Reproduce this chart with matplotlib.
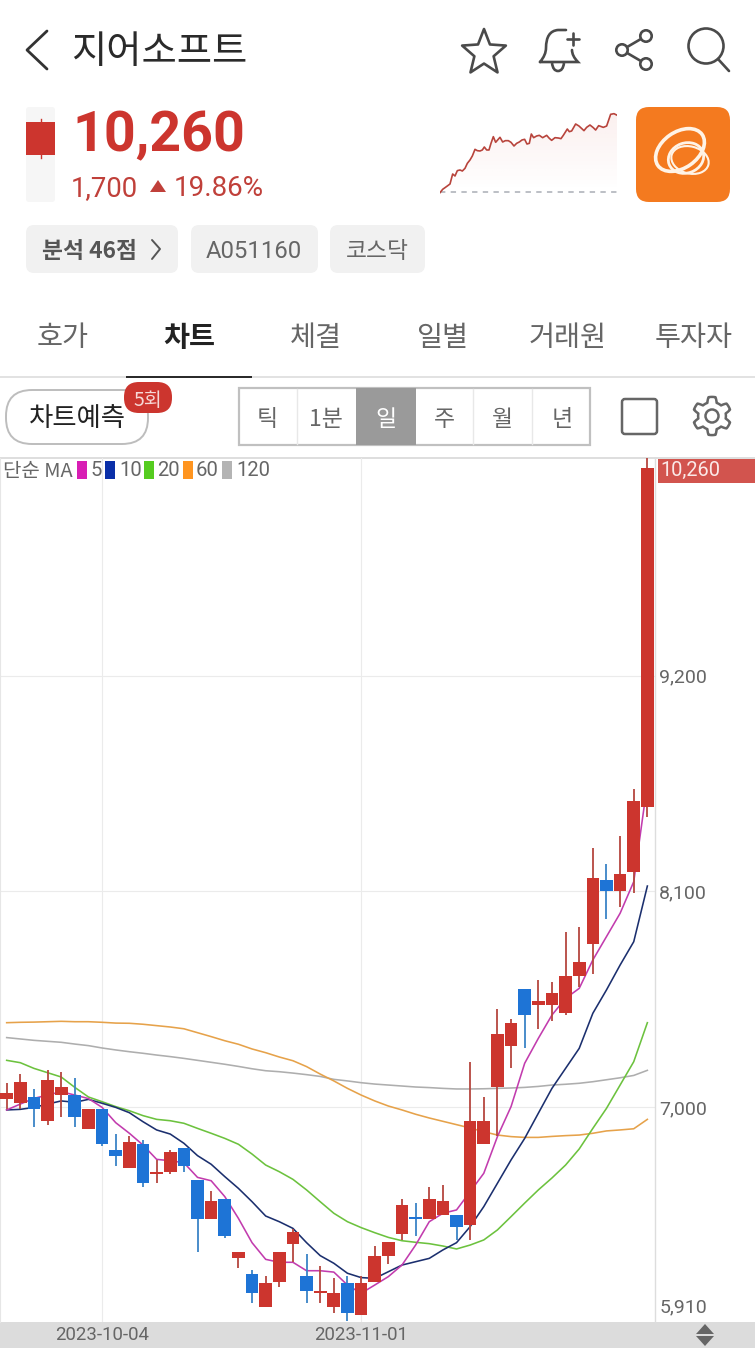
import numpy as np
import matplotlib
matplotlib.use("Agg")
import matplotlib.pyplot as plt
from matplotlib.patches import FancyBboxPatch, Rectangle, Circle, Ellipse, Polygon, PathPatch
from matplotlib.path import Path
from matplotlib.transforms import ScaledTranslation

W, H = 755, 1348
plt.rcParams['font.family'] = ['Noto Sans CJK KR', 'DejaVu Sans']
NUM_FONT = ['Roboto', 'Noto Sans CJK KR', 'DejaVu Sans']

# daily candles, 2023-09 .. 2023-11
opens = [7040, 7020, 7050, 6930, 7060, 7060, 6890, 6990, 6780, 6690, 6810, 6660, 6670, 6790, 6630, 6430,
         6530, 6230, 6150, 5980, 6110, 6300, 6140, 6050, 5980, 6100, 5940, 6110, 6240, 6350, 6440, 6430,
         6450, 6450, 6400, 6810, 7100, 7310, 7600, 7520, 7520, 7480, 7670, 7830, 8160, 8100, 8200, 8530]
closes = [7070, 7130, 6990, 7140, 7100, 6950, 6990, 6810, 6750, 6820, 6610, 6670, 6770, 6700, 6430, 6520,
          6340, 6260, 6050, 6100, 6260, 6360, 6060, 6060, 6050, 5950, 6100, 6240, 6310, 6500, 6430, 6530,
          6520, 6390, 6930, 6930, 7370, 7430, 7470, 7540, 7580, 7670, 7740, 8170, 8100, 8190, 8560, 10260]
highs = [7120, 7170, 7090, 7190, 7180, 7150, 6990, 6990, 6860, 6850, 6830, 6730, 6780, 6790, 6630, 6570,
         6530, 6260, 6170, 6140, 6260, 6380, 6250, 6190, 6130, 6140, 6140, 6290, 6310, 6530, 6510, 6590,
         6600, 6450, 7230, 7050, 7500, 7450, 7600, 7650, 7640, 7890, 7920, 8320, 8240, 8380, 8620, 10310]
lows = [6990, 6990, 6900, 6910, 6950, 6900, 6890, 6800, 6700, 6690, 6590, 6610, 6660, 6670, 6260, 6430,
        6330, 6180, 6000, 5980, 6080, 6210, 6000, 6000, 5950, 5910, 5940, 6110, 6200, 6320, 6340, 6430,
        6450, 6320, 6320, 6810, 6850, 7200, 7300, 7400, 7440, 7470, 7610, 7680, 7960, 8020, 8090, 8480]

ma5 = [6985, 7015, 7044, 7061, 7078, 7061, 7043, 6998, 6920, 6866, 6806, 6733, 6726, 6716, 6641, 6624,
       6543, 6432, 6308, 6223, 6208, 6208, 6165, 6165, 6158, 6092, 6050, 6092, 6135, 6194, 6296, 6415,
       6458, 6475, 6568, 6662, 6849, 7002, 7223, 7350, 7469, 7554, 7605, 7750, 7869, 7988, 8149, 8650]
ma10 = [6985, 6988, 6998, 7015, 7031, 7024, 7039, 7019, 6998, 6971, 6925, 6883, 6862, 6815, 6752, 6708,
        6645, 6585, 6517, 6444, 6415, 6381, 6308, 6242, 6203, 6152, 6130, 6126, 6160, 6194, 6211, 6228,
        6271, 6308, 6390, 6492, 6611, 6730, 6840, 6968, 7095, 7197, 7299, 7478, 7597, 7724, 7843, 8127]
ma20 = [7238, 7226, 7197, 7175, 7153, 7100, 7051, 7027, 7002, 6981, 6956, 6937, 6930, 6917, 6891, 6866,
        6840, 6810, 6760, 6704, 6670, 6631, 6577, 6517, 6458, 6415, 6385, 6359, 6335, 6318, 6310, 6303,
        6291, 6276, 6296, 6322, 6373, 6441, 6510, 6577, 6638, 6704, 6786, 6891, 6993, 7112, 7231, 7430]
ma60 = [7430, 7432, 7433, 7435, 7437, 7435, 7435, 7432, 7428, 7427, 7422, 7415, 7408, 7399, 7379, 7359,
        7338, 7320, 7296, 7277, 7255, 7236, 7206, 7168, 7133, 7095, 7061, 7031, 7005, 6985, 6963, 6944,
        6927, 6910, 6893, 6874, 6857, 6849, 6845, 6845, 6850, 6854, 6857, 6866, 6878, 6883, 6889, 6937]
ma120 = [7354, 7347, 7340, 7335, 7330, 7321, 7313, 7301, 7291, 7282, 7274, 7265, 7257, 7248, 7238, 7228,
         7218, 7207, 7195, 7185, 7180, 7173, 7165, 7156, 7141, 7133, 7124, 7117, 7112, 7107, 7102, 7099,
         7095, 7092, 7092, 7093, 7095, 7097, 7100, 7105, 7112, 7116, 7121, 7129, 7139, 7149, 7161, 7187]

ma_series = [ma120, ma60, ma20, ma10, ma5]
ma_colors = ['#aeaeae', '#e6a24a', '#6cc23e', '#1b2f6e', '#c23cae']

legend_labels = ['5', '10', '20', '60', '120']
legend_colors = ['#d81eb4', '#0a2fa8', '#55cc20', '#ff9520', '#b4b4b4']

price_ticks = [7000, 8100, 9200]
price_labels = ['7,000', '8,100', '9,200']
date_ticks = [7, 26]
date_labels = ['2023-10-04', '2023-11-01']

# small intraday line in the header
spark_t = [30, 38, 45, 52, 60, 68, 75, 82, 90, 97, 105, 112, 120, 127, 135, 142, 150, 157, 163, 170, 177, 183,
           190, 197, 203, 210, 218, 226, 235, 243, 252, 260, 268, 276, 284, 291, 298, 304, 311, 320, 328, 338,
           350, 358, 365, 375, 385, 393, 400, 412, 418, 425, 437, 447, 462, 470, 480, 490, 497, 506, 520, 530,
           542, 552, 562]
spark_p = [8545, 8618, 8654, 8691, 8734, 8952, 8908, 9025, 9039, 9017, 9075, 9184, 9257, 9344, 9489, 9460,
           9453, 9475, 9540, 9475, 9475, 9620, 9765, 9642, 9693, 9751, 9649, 9678, 9678, 9642, 9562, 9620,
           9649, 9693, 9707, 9605, 9620, 9823, 9743, 9780, 9794, 9743, 9794, 9729, 9685, 9743, 9736, 9722,
           9794, 9932, 9874, 9889, 10041, 9997, 9896, 9968, 10019, 9961, 9910, 10005, 9968, 9997, 10252,
           10266, 10230]
prev_close = 8560

tabs = ['호가', '차트', '체결', '일별', '거래원', '투자자']
periods = ['틱', '1분', '일', '주', '월', '년']

RED = '#cc352e'
BLUE = '#1e74d6'
GRAY_TXT = '#666666'
ICON = '#4a4a4a'


def px_axes(x0, y0, x1, y1, **kw):
    return fig.add_axes([x0 / W, 1 - y1 / H, (x1 - x0) / W, (y1 - y0) / H], **kw)


def rbox(x0, y0, x1, y1, r, **kw):
    ui.add_patch(FancyBboxPatch((x0 + r, y0 + r), x1 - x0 - 2 * r, y1 - y0 - 2 * r,
                                boxstyle="round,pad=%g,rounding_size=%g" % (r, r), **kw))


def stroke(points, color=ICON, lw=1.9):
    xs, ys = zip(*points)
    ui.plot(xs, ys, color=color, lw=lw, solid_capstyle='round', solid_joinstyle='round')


fig = plt.figure(figsize=(W / 100, H / 100), dpi=100, facecolor='white')

# ---- page chrome, in pixels
ui = fig.add_axes([0, 0, 1, 1], zorder=0)
ui.set_xlim(0, W)
ui.set_ylim(H, 0)
ui.axis('off')

# header row
stroke([(47, 31), (27, 50), (47, 69)], color='#333333', lw=2.0)
ui.text(71, 52, '지어소프트', fontsize=27.6, color='#2a2a2a', va='center', ha='left')

star_a = np.deg2rad(np.arange(0, 360, 36) - 90)
star_r = np.array([25, 11] * 5)
star = np.c_[484 + star_r * np.cos(star_a) * 0.92, 53 + star_r * np.sin(star_a) * 0.96]
ui.add_patch(Polygon(star, closed=True, fill=False, ec=ICON, lw=1.9, joinstyle='round'))

bell = Path([(540, 62), (546, 55), (546, 48), (546, 31), (558, 30), (563, 30), (566, 30),
             (572, 50), (572, 56), (578, 62), (540, 62)],
            [Path.MOVETO, Path.CURVE3, Path.CURVE3, Path.CURVE3, Path.CURVE3, Path.CURVE3, Path.CURVE3,
             Path.MOVETO, Path.CURVE3, Path.CURVE3, Path.LINETO])
ui.add_patch(PathPatch(bell, fill=False, ec=ICON, lw=1.9, capstyle='round'))
ui.add_patch(PathPatch(Path([(552, 63), (553, 71), (558, 71), (563, 71), (564, 63)],
                            [Path.MOVETO, Path.CURVE3, Path.CURVE3, Path.CURVE3, Path.CURVE3]),
                       fill=False, ec=ICON, lw=1.9))
stroke([(573, 33), (573, 45)])
stroke([(567, 39), (579, 39)])

stroke([(646, 36), (622, 50), (646, 64)])
for cx, cy in [(646, 36), (622, 50), (646, 64)]:
    ui.add_patch(Circle((cx, cy), 5.7, fc='white', ec=ICON, lw=1.9, zorder=3))

ui.add_patch(Circle((706, 46), 17.5, fill=False, ec=ICON, lw=1.9))
stroke([(718, 59), (729, 71)])

# price block
rbox(26, 107, 55, 202, 3, fc='#f6f6f6', ec='none')
ui.add_patch(Rectangle((26, 122), 29, 33, fc=RED, ec='none'))
ui.plot([40.5, 40.5], [119, 158], color=RED, lw=1)
ui.text(72, 136, '10,260', fontsize=40, fontweight='bold', color=RED, va='center', ha='left', family=NUM_FONT)
ui.text(71, 189, '1,700', fontsize=19.8, color='#c0403a', va='center', ha='left', family=NUM_FONT)
ui.add_patch(Polygon([(158, 180), (150, 192), (166, 192)], closed=True, fc='#c0403a', ec='none'))
ui.text(174, 189, '19.86%', fontsize=20, color='#c0403a', va='center', ha='left', family=NUM_FONT)

# logo
rbox(636, 107, 730, 202, 13, fc='#f47a1f', ec='none')
for cx, cy, ww, hh, ang, lw in [(680, 150, 54, 36, -35, 2.6), (690, 160, 38, 27, 15, 1.5),
                                (686, 158, 30, 36, 70, 2.0)]:
    ui.add_patch(Ellipse((cx, cy), ww, hh, angle=ang, fill=False, ec='#fff3e6', lw=lw))

# chips
rbox(26, 225, 178, 273, 8, fc='#f1f1f1', ec='none')
rbox(191, 225, 318, 273, 8, fc='#f1f1f1', ec='none')
rbox(330, 225, 425, 273, 8, fc='#f1f1f1', ec='none')
ui.text(90, 252, '분석 46점', fontsize=16.4, fontweight='bold', color='#555555', va='center', ha='center')
stroke([(152, 240), (160, 249), (152, 259)], color='#555555', lw=1.4)
ui.text(254, 251, 'A051160', fontsize=17.2, color=GRAY_TXT, va='center', ha='center', family=NUM_FONT)
ui.text(377, 252, '코스닥', fontsize=16.4, color=GRAY_TXT, va='center', ha='center')

# tabs
for cx, label in zip([63, 189, 316, 442, 568, 694], tabs):
    active = label == '차트'
    ui.text(cx, 338, label, fontsize=20.4, color='#222222' if active else GRAY_TXT,
            fontweight='bold' if active else 'normal', va='center', ha='center')
ui.add_patch(Rectangle((0, 375.5), W, 2.5, fc='#e2e2e2', ec='none'))
ui.add_patch(Rectangle((126, 375.5), 126, 2.5, fc='#2b2b2b', ec='none', zorder=2))

# toolbar
rbox(6, 390, 148, 444, 26, fc='white', ec='#bdbdbd', lw=1.4)
ui.text(77, 419, '차트예측', fontsize=19, color='#222222', va='center', ha='center')
rbox(124, 382, 172, 413, 15, fc=RED, ec='none', zorder=3)
ui.text(148, 400, '5회', fontsize=14, color='#f6d8d6', va='center', ha='center', zorder=4)

ui.add_patch(Rectangle((239, 388), 351, 57, fc='white', ec='#c0c0c0', lw=1.6))
ui.add_patch(Rectangle((356, 388), 60, 57, fc='#9a9a9a', ec='none', zorder=2))
for x in [297, 473, 532]:
    ui.plot([x, x], [389, 444], color='#e8e8e8', lw=1)
for cx, label in zip([267, 326, 386, 444, 503, 562], periods):
    ui.text(cx, 419, label, fontsize=16.5, color='white' if label == '일' else GRAY_TXT,
            va='center', ha='center', zorder=3)

rbox(622, 399, 657, 434, 3, fc='white', ec='#666666', lw=1.8)
gear_a = np.linspace(0, 2 * np.pi, 241)
gear_r = 16.5 + 2.6 * np.clip(2.2 * np.cos(6 * (gear_a + np.pi / 6)), -1, 1)
ui.add_patch(Polygon(np.c_[712 + gear_r * np.cos(gear_a), 416 + gear_r * np.sin(gear_a)],
                     closed=True, fill=False, ec='#666666', lw=1.8, joinstyle='round'))
ui.add_patch(Circle((712, 416), 6.5, fill=False, ec='#666666', lw=1.8))

# frames round the chart
ui.add_patch(Rectangle((0, 457), W, 2, fc='#dedede', ec='none'))
ui.add_patch(Rectangle((0, 1322), W, 26, fc='#dcdcdc', ec='none'))
ui.add_patch(Rectangle((658, 459), 97, 24, fc='#d2544e', ec='none'))
ui.add_patch(Polygon([(705, 1324), (696, 1334), (714, 1334)], closed=True, fc='#666666', ec='none'))
ui.add_patch(Polygon([(705, 1346), (696, 1336), (714, 1336)], closed=True, fc='#666666', ec='none'))

# ---- intraday spark line
sp = px_axes(440, 110, 617.3, 194, zorder=1)
sp.set_xlim(30, 562)
sp.set_ylim(8516, 10346)
sp.axis('off')
grad = np.zeros((64, 2, 4))
grad[..., 0], grad[..., 1], grad[..., 2] = 0.8, 0.25, 0.2
grad[..., 3] = np.linspace(0.08, 0.0, 64)[:, None]
img = sp.imshow(grad, extent=(30, 562, prev_close, max(spark_p)), aspect='auto', zorder=1)
fill = sp.fill_between(spark_t, spark_p, prev_close, color='none')
img.set_clip_path(fill.get_paths()[0], transform=sp.transData)
sp.set_xlim(30, 562)
sp.set_ylim(8516, 10346)
sp.axhline(prev_close, color='#a9adb5', lw=1.1, dashes=(3.5, 3.5), zorder=2)
sp.plot(spark_t, spark_p, color='#b8443c', lw=1.2, zorder=3)

# ---- candle chart
ax = px_axes(0, 458, 655, 1322, zorder=2)
ax.patch.set_alpha(0)
xs = np.arange(len(opens))
ax.set_xlim(-0.49, 47.56)
ax.set_ylim(5903.5, 10310)
for s in ['top', 'bottom']:
    ax.spines[s].set_visible(False)
ax.spines['left'].set_color('#e6e6e6')
ax.spines['right'].set_color('#dddddd')
ax.spines['right'].set_linewidth(1.0)

ax.yaxis.tick_right()
ax.set_yticks(price_ticks)
ax.set_yticklabels(price_labels, fontsize=14, color=GRAY_TXT, family=NUM_FONT)
ax.set_xticks(date_ticks)
ax.set_xticklabels(date_labels, fontsize=13.4, color=GRAY_TXT, family=NUM_FONT)
ax.tick_params(length=0, axis='both')
ax.tick_params(axis='y', pad=3)
ax.tick_params(axis='x', pad=3)
ax.grid(True, color='#ebebeb', lw=0.8)
ax.set_axisbelow(True)

for vals, col in zip(ma_series, ma_colors):
    ax.plot(xs, vals, color=col, lw=1.15, zorder=2, solid_joinstyle='round')

up = np.array(closes) >= np.array(opens)
body_col = [RED if u else BLUE for u in up]
wick_col = ['#b5473f' if u else '#3a84c6' for u in up]
ax.vlines(xs, lows, highs, colors=wick_col, lw=1.3, zorder=3)
bottoms = np.minimum(opens, closes)
heights = np.abs(np.array(closes) - np.array(opens))
ax.bar(xs, heights, bottom=bottoms, width=0.93, color=body_col, lw=0, zorder=4)

# legend row, last price tag and bottom scale value on top of everything
ui_top = fig.add_axes([0, 0, 1, 1], zorder=5)
ui_top.set_xlim(0, W)
ui_top.set_ylim(H, 0)
ui_top.axis('off')
ui_top.text(660, 470, '{:,}'.format(closes[-1]), fontsize=14.4, color='#fbe9e8', va='center', ha='left', family=NUM_FONT)
ui_top.text(660, 1307.5, '5,910', fontsize=14, color=GRAY_TXT, va='center', ha='left', family=NUM_FONT)
ui_top.text(3, 471.5, '단순 MA', fontsize=14.4, color=GRAY_TXT, va='center', ha='left')
for sx, tx, label, col in zip([77, 105, 144, 183, 222], [90, 119, 157, 196, 236], legend_labels, legend_colors):
    ui_top.add_patch(Rectangle((sx, 461), 10, 18, fc=col, ec='none'))
    ui_top.text(tx, 470.5, label, fontsize=14.6, color=GRAY_TXT, va='center', ha='left', family=NUM_FONT)

fig.savefig('out.png', dpi=100, facecolor='white')
